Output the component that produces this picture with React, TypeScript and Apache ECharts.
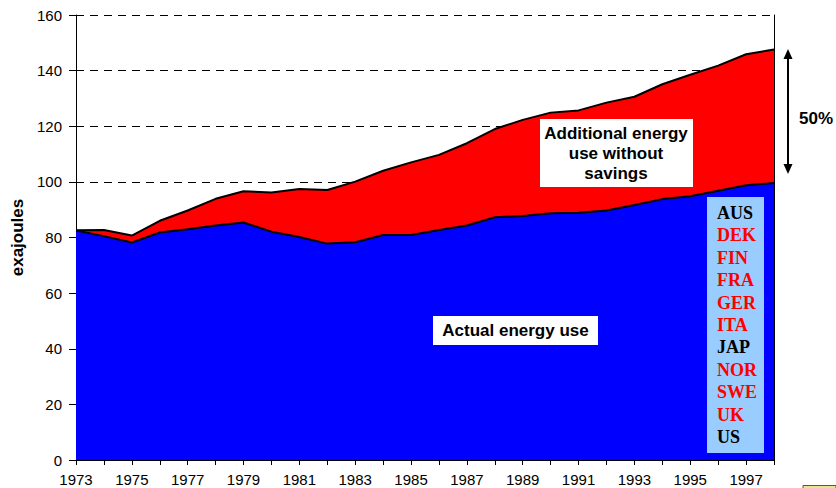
import React, { useEffect, useRef } from "react";
import * as echarts from "echarts";

const years = [
  "1973", "1974", "1975", "1976", "1977", "1978", "1979", "1980", "1981", "1982",
  "1983", "1984", "1985", "1986", "1987", "1988", "1989", "1990", "1991", "1992",
  "1993", "1994", "1995", "1996", "1997", "1998",
];

const actualUse = [
  82.5, 80.5, 78.2, 81.8, 83.0, 84.3, 85.4, 82.1, 80.2, 77.8,
  78.3, 80.9, 80.9, 82.7, 84.3, 87.3, 87.7, 88.7, 88.9, 89.7,
  91.7, 93.8, 94.8, 96.8, 98.8, 99.6,
];

const useWithoutSavings = [
  82.6, 82.7, 80.7, 86.0, 89.7, 93.9, 96.6, 96.2, 97.4, 97.1,
  100.1, 104.0, 107.0, 109.7, 113.9, 119.0, 122.3, 124.9, 125.7, 128.5,
  130.6, 135.1, 138.5, 141.8, 145.9, 147.6,
];

const countries = ["AUS", "DEK", "FIN", "FRA", "GER", "ITA", "JAP", "NOR", "SWE", "UK", "US"];
const countryColors = ["#000000", "#FF0000", "#FF0000", "#FF0000", "#FF0000", "#FF0000", "#000000", "#FF0000", "#FF0000", "#FF0000", "#000000"];

const additional = useWithoutSavings.map((v, i) => +(v - actualUse[i]).toFixed(2));

export default function App() {
  const ref = useRef<HTMLDivElement>(null);

  useEffect(() => {
    if (!ref.current) return;
    const chart = echarts.init(ref.current, null, { renderer: "svg" });
    const sans = "Arial, 'Liberation Sans', sans-serif";
    const serif = "'Times New Roman', 'Liberation Serif', serif";

    const countryTexts = countries.map((c, i) => ({
      type: "text",
      left: 717,
      top: 204 + i * 22.4,
      z: 100,
      style: {
        text: c,
        fill: countryColors[i],
        font: `bold 18px ${serif}`,
      },
    }));

    chart.setOption({
      animation: false,
      backgroundColor: "#ffffff",
      grid: { left: 76, right: 62, top: 15, bottom: 28, containLabel: false },
      xAxis: {
        type: "category",
        data: years,
        boundaryGap: false,
        axisLine: { show: true, lineStyle: { color: "#000", width: 1 } },
        axisTick: { show: true, interval: 0, length: 5, lineStyle: { color: "#000" } },
        axisLabel: { interval: 1, color: "#000", fontSize: 15, fontFamily: sans, margin: 12 },
        splitLine: { show: false },
      },
      yAxis: [
        {
          type: "value",
          min: 0,
          max: 160,
          interval: 20,
          name: "exajoules",
          nameLocation: "middle",
          nameGap: 50,
          nameTextStyle: { color: "#000", fontSize: 17, fontWeight: "bold", fontFamily: sans },
          axisLine: { show: true, lineStyle: { color: "#000", width: 1 } },
          axisTick: { show: true, length: 7, lineStyle: { color: "#000" } },
          axisLabel: { color: "#000", fontSize: 15, fontFamily: sans, margin: 14 },
          splitLine: { show: true, lineStyle: { color: "#000", type: [8, 6], width: 1 } },
        },
        {
          type: "value",
          min: 0,
          max: 160,
          interval: 20,
          position: "right",
          axisLine: { show: true, lineStyle: { color: "#000", width: 1 } },
          axisTick: { show: false },
          axisLabel: { show: false },
          splitLine: { show: false },
        },
      ],
      series: [
        {
          name: "Actual energy use",
          type: "line",
          stack: "energy",
          data: actualUse,
          symbol: "none",
          lineStyle: { color: "#000", width: 2 },
          areaStyle: { color: "#0000FF", opacity: 1 },
          z: 2,
        },
        {
          name: "Additional energy use without savings",
          type: "line",
          stack: "energy",
          data: additional,
          symbol: "none",
          lineStyle: { color: "#000", width: 2 },
          areaStyle: { color: "#FF0000", opacity: 1 },
          z: 1,
        },
      ],
      graphic: [
        {
          type: "rect",
          shape: { x: 540, y: 119, width: 153, height: 68 },
          style: { fill: "#ffffff" },
          z: 100,
        },
        {
          type: "text",
          x: 616,
          y: 153,
          z: 101,
          style: {
            text: "Additional energy\nuse without\nsavings",
            fill: "#000",
            font: `bold 17px ${sans}`,
            align: "center",
            verticalAlign: "middle",
            lineHeight: 20,
          },
        },
        {
          type: "rect",
          shape: { x: 433, y: 316, width: 165, height: 29 },
          style: { fill: "#ffffff" },
          z: 100,
        },
        {
          type: "text",
          x: 515.5,
          y: 330.5,
          z: 101,
          style: {
            text: "Actual energy use",
            fill: "#000",
            font: `bold 17px ${sans}`,
            align: "center",
            verticalAlign: "middle",
          },
        },
        {
          type: "rect",
          shape: { x: 707, y: 197, width: 57, height: 256 },
          style: { fill: "#99CCFF" },
          z: 99,
        },
        ...countryTexts,
        {
          type: "line",
          shape: { x1: 788, y1: 55, x2: 788, y2: 168 },
          style: { stroke: "#000", lineWidth: 2 },
          z: 100,
        },
        {
          type: "polygon",
          shape: { points: [[788, 49], [783.5, 59], [792.5, 59]] },
          style: { fill: "#000" },
          z: 100,
        },
        {
          type: "polygon",
          shape: { points: [[788, 174], [783.5, 164], [792.5, 164]] },
          style: { fill: "#000" },
          z: 100,
        },
        {
          type: "text",
          x: 816,
          y: 118,
          z: 100,
          style: {
            text: "50%",
            fill: "#000",
            font: `bold 17px ${sans}`,
            align: "center",
            verticalAlign: "middle",
          },
        },
        {
          type: "rect",
          shape: { x: 803, y: 485.5, width: 33, height: 5 },
          style: { fill: "#E6E68C", stroke: "#555", lineWidth: 1 },
          z: 100,
        },
      ],
    });

    return () => chart.dispose();
  }, []);

  return (
    <div
      ref={ref}
      style={{ position: "absolute", left: 0, top: 0, width: 836, height: 488 }}
    />
  );
}
